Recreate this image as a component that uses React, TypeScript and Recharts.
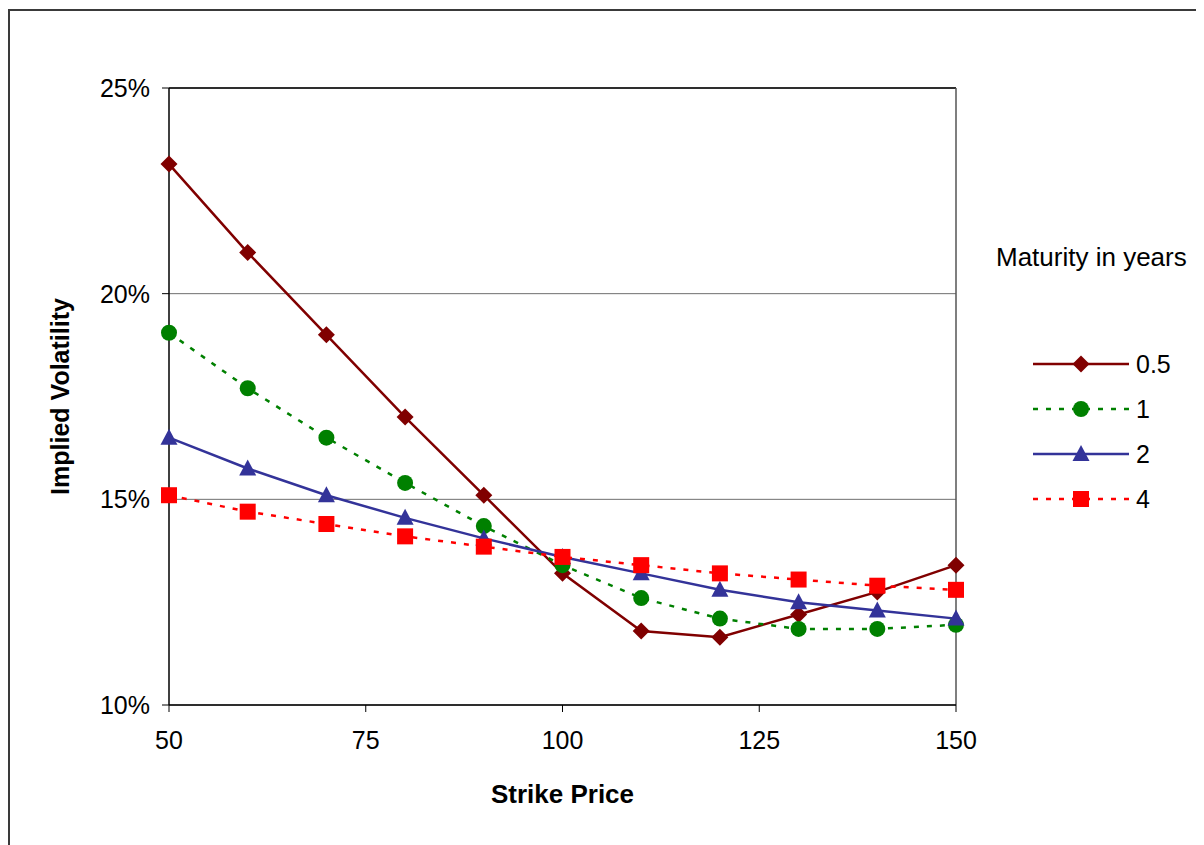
import React from 'react'
import {
  LineChart,
  Line,
  XAxis,
  YAxis,
  CartesianGrid,
  ReferenceLine,
  Legend,
} from 'recharts'

const strikes = [50, 60, 70, 80, 90, 100, 110, 120, 130, 140, 150]
const vol05 = [23.15, 21.0, 19.0, 17.0, 15.1, 13.2, 11.8, 11.65, 12.2, 12.75, 13.4]
const vol1 = [19.05, 17.7, 16.5, 15.4, 14.35, 13.4, 12.6, 12.1, 11.85, 11.85, 11.95]
const vol2 = [16.5, 15.75, 15.1, 14.55, 14.05, 13.6, 13.2, 12.8, 12.5, 12.3, 12.1]
const vol4 = [15.1, 14.7, 14.4, 14.1, 13.85, 13.6, 13.4, 13.2, 13.05, 12.9, 12.8]

const seriesNames = ['0.5', '1', '2', '4']
const xTicks = [50, 75, 100, 125, 150]
const yTicks = [10, 15, 20, 25]

const FONT = "'Liberation Sans', Arial, sans-serif"

type MarkerKind = 'diamond' | 'circle' | 'triangle' | 'square'

const series: { key: string; name: string; color: string; dash?: string; marker: MarkerKind }[] = [
  { key: 's05', name: seriesNames[0], color: '#800000', marker: 'diamond' },
  { key: 's1', name: seriesNames[1], color: '#008000', dash: '5 8', marker: 'circle' },
  { key: 's2', name: seriesNames[2], color: '#333399', marker: 'triangle' },
  { key: 's4', name: seriesNames[3], color: '#FF0000', dash: '5 8', marker: 'square' },
]

const data = strikes.map((k, i) => ({
  strike: k,
  s05: vol05[i],
  s1: vol1[i],
  s2: vol2[i],
  s4: vol4[i],
}))

function Marker({ kind, cx, cy, color }: { kind: MarkerKind; cx: number; cy: number; color: string }) {
  if (kind === 'diamond') {
    return <polygon points={`${cx},${cy - 8.5} ${cx + 8.5},${cy} ${cx},${cy + 8.5} ${cx - 8.5},${cy}`} fill={color} />
  }
  if (kind === 'circle') return <circle cx={cx} cy={cy} r={8} fill={color} />
  if (kind === 'triangle') {
    return <polygon points={`${cx},${cy - 9} ${cx + 8.5},${cy + 7} ${cx - 8.5},${cy + 7}`} fill={color} />
  }
  return <rect x={cx - 8} y={cy - 8} width={16} height={16} fill={color} />
}

// eslint-disable-next-line @typescript-eslint/no-explicit-any
const makeDot = (kind: MarkerKind, color: string) => (p: any) => (
  <Marker key={`${kind}-${p.index}`} kind={kind} cx={p.cx} cy={p.cy} color={color} />
)

function LegendBox() {
  const rows = [134, 179, 224, 269]
  return (
    <svg width={214} height={290} style={{ display: 'block', overflow: 'visible' }}>
      <text x={6} y={36} fontSize={26} fontFamily={FONT} fill="#000">
        Maturity in years
      </text>
      {series.map((s, i) => (
        <g key={s.key}>
          <line
            x1={43}
            x2={139}
            y1={rows[i]}
            y2={rows[i]}
            stroke={s.color}
            strokeWidth={2.5}
            strokeDasharray={s.dash}
          />
          <Marker kind={s.marker} cx={91} cy={rows[i]} color={s.color} />
          <text x={146} y={rows[i] + 9} fontSize={25} fontFamily={FONT} fill="#000">
            {s.name}
          </text>
        </g>
      ))}
    </svg>
  )
}

export default function App() {
  return (
    <div style={{ position: 'relative', width: 1196, height: 837, fontFamily: FONT }}>
      <div
        style={{
          position: 'absolute',
          left: 0,
          top: 1,
          width: 1300,
          height: 900,
          borderLeft: '2px solid #3a3a3a',
          borderTop: '2px solid #3a3a3a',
          boxSizing: 'border-box',
        }}
      />
      <LineChart
        width={1196}
        height={837}
        data={data}
        margin={{ top: 80, right: 248, bottom: 20, left: 20 }}
        style={{ position: 'absolute', left: 0, top: 0 }}
      >
        <CartesianGrid horizontal vertical={false} stroke="#6f6f6f" strokeWidth={1} />
        <XAxis
          dataKey="strike"
          type="number"
          domain={[50, 150]}
          ticks={xTicks}
          height={120}
          tickSize={7}
          tickMargin={19}
          axisLine={{ stroke: '#000', strokeWidth: 1.5 }}
          tickLine={{ stroke: '#000' }}
          tick={{ fill: '#000', fontSize: 25, fontFamily: FONT }}
          label={{
            value: 'Strike Price',
            position: 'insideBottom',
            offset: 22,
            style: { fontSize: 26, fontWeight: 'bold', fill: '#000', fontFamily: FONT },
          }}
        />
        <YAxis
          type="number"
          domain={[10, 25]}
          ticks={yTicks}
          width={141}
          tickSize={7}
          tickMargin={12}
          tickFormatter={(v: number) => `${v}%`}
          axisLine={{ stroke: '#000', strokeWidth: 1.5 }}
          tickLine={{ stroke: '#000' }}
          tick={{ fill: '#000', fontSize: 25, fontFamily: FONT }}
          label={{
            value: 'Implied Volatility',
            angle: -90,
            position: 'insideLeft',
            offset: 32,
            style: { textAnchor: 'middle', fontSize: 25, fontWeight: 'bold', fill: '#000', fontFamily: FONT },
          }}
        />
        <ReferenceLine y={25} stroke="#000" strokeWidth={1.5} />
        <ReferenceLine x={150} stroke="#555" strokeWidth={1.5} />
        <Legend
          layout="vertical"
          align="center"
          verticalAlign="middle"
          content={() => <LegendBox />}
          wrapperStyle={{ left: 982, top: 222, width: 214, height: 290 }}
        />
        {series.map(s => (
          <Line
            key={s.key}
            type="linear"
            dataKey={s.key}
            name={s.name}
            stroke={s.color}
            strokeWidth={2.5}
            strokeDasharray={s.dash}
            dot={makeDot(s.marker, s.color)}
            activeDot={false}
            isAnimationActive={false}
          />
        ))}
      </LineChart>
    </div>
  )
}
